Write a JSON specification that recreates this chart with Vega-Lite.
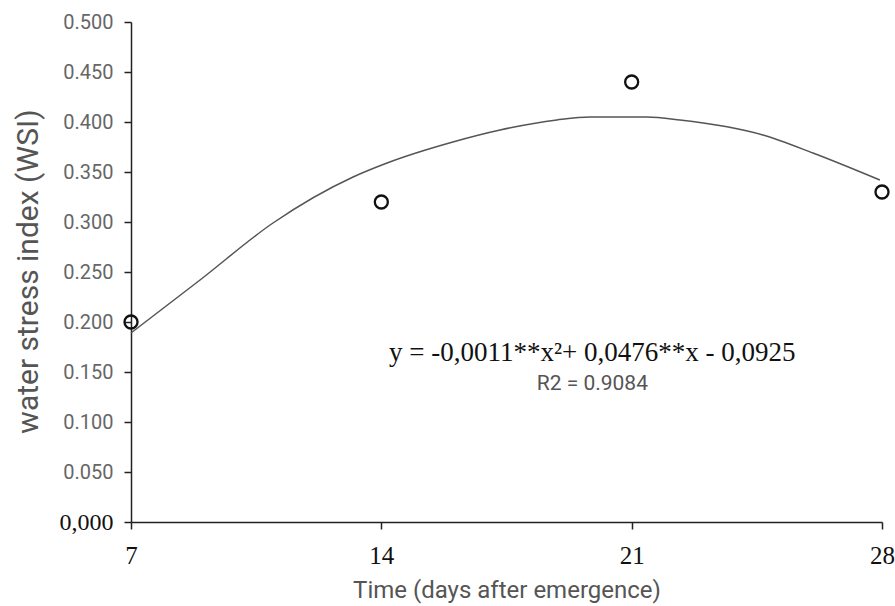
{
  "$schema": "https://vega.github.io/schema/vega-lite/v6.json",
  "width": 751,
  "height": 500,
  "autosize": {"type": "none"},
  "padding": {"left": 131, "top": 22, "right": 13, "bottom": 84},
  "background": "white",
  "config": {"view": {"stroke": null}},
  "datasets": {
    "points": [
      {"day": 7, "wsi": 0.200},
      {"day": 14, "wsi": 0.320},
      {"day": 21, "wsi": 0.440},
      {"day": 28, "wsi": 0.330}
    ],
    "curve": [
      {"day": 7.0, "wsi": 0.189},
      {"day": 8.93, "wsi": 0.242},
      {"day": 10.97, "wsi": 0.299},
      {"day": 13.21, "wsi": 0.345},
      {"day": 14.16, "wsi": 0.359},
      {"day": 16.0, "wsi": 0.380},
      {"day": 17.32, "wsi": 0.392},
      {"day": 18.91, "wsi": 0.402},
      {"day": 19.84, "wsi": 0.405},
      {"day": 21.43, "wsi": 0.405},
      {"day": 22.35, "wsi": 0.402},
      {"day": 24.67, "wsi": 0.387},
      {"day": 26.07, "wsi": 0.369},
      {"day": 27.94, "wsi": 0.342}
    ],
    "equation": [
      {"day": 19.9, "wsi": 0.169, "text": "y = -0,0011**x²+ 0,0476**x - 0,0925"}
    ],
    "r2": [
      {"day": 19.9, "wsi": 0.138, "text": "R2 = 0.9084"}
    ]
  },
  "encoding": {
    "x": {
      "field": "day",
      "type": "quantitative",
      "scale": {"domain": [7, 28], "nice": false, "zero": false},
      "axis": {
        "title": "Time (days after emergence)",
        "values": [7, 14, 21, 28],
        "format": "d",
        "grid": false,
        "domainColor": "#222",
        "domainWidth": 1.5,
        "tickColor": "#222",
        "tickWidth": 1.5,
        "tickSize": 7,
        "labelFont": "Liberation Serif",
        "labelFontSize": 25,
        "labelColor": "#111",
        "labelPadding": 14,
        "labelFlush": false,
        "titleFont": "Roboto",
        "titleFontSize": 24,
        "titleFontWeight": "normal",
        "titleColor": "#555",
        "titlePadding": 10
      }
    },
    "y": {
      "field": "wsi",
      "type": "quantitative",
      "scale": {"domain": [0, 0.5], "nice": false},
      "axis": {
        "title": "water stress index (WSI)",
        "values": [0, 0.05, 0.1, 0.15, 0.2, 0.25, 0.3, 0.35, 0.4, 0.45, 0.5],
        "labelExpr": "datum.value == 0 ? '0,000' : format(datum.value, '.3f')",
        "grid": false,
        "domainColor": "#222",
        "domainWidth": 1.5,
        "tickColor": "#222",
        "tickWidth": 1.5,
        "tickSize": 7,
        "labelFont": {"condition": {"test": "datum.value == 0", "value": "Liberation Serif"}, "value": "Roboto"},
        "labelFontSize": {"condition": {"test": "datum.value == 0", "value": 24}, "value": 20},
        "labelColor": {"condition": {"test": "datum.value == 0", "value": "#111"}, "value": "#666"},
        "labelPadding": 11,
        "labelFlush": false,
        "titleFont": "Roboto",
        "titleFontSize": 30,
        "titleFontWeight": "normal",
        "titleColor": "#555",
        "titleX": -103,
        "titleY": 249,
        "titleBaseline": "middle",
        "titleAngle": -90
      }
    }
  },
  "layer": [
    {
      "data": {"name": "curve"},
      "mark": {"type": "line", "interpolate": "monotone", "color": "#555", "strokeWidth": 1.5}
    },
    {
      "data": {"name": "points"},
      "mark": {"type": "point", "shape": "circle", "filled": false, "stroke": "#111", "strokeWidth": 2.3, "size": 170, "opacity": 1}
    },
    {
      "data": {"name": "equation"},
      "mark": {"type": "text", "font": "Liberation Serif", "fontSize": 27, "color": "#111", "align": "center", "baseline": "middle"},
      "encoding": {"text": {"field": "text"}}
    },
    {
      "data": {"name": "r2"},
      "mark": {"type": "text", "font": "Roboto", "fontSize": 21, "color": "#555", "align": "center", "baseline": "middle"},
      "encoding": {"text": {"field": "text"}}
    }
  ]
}
